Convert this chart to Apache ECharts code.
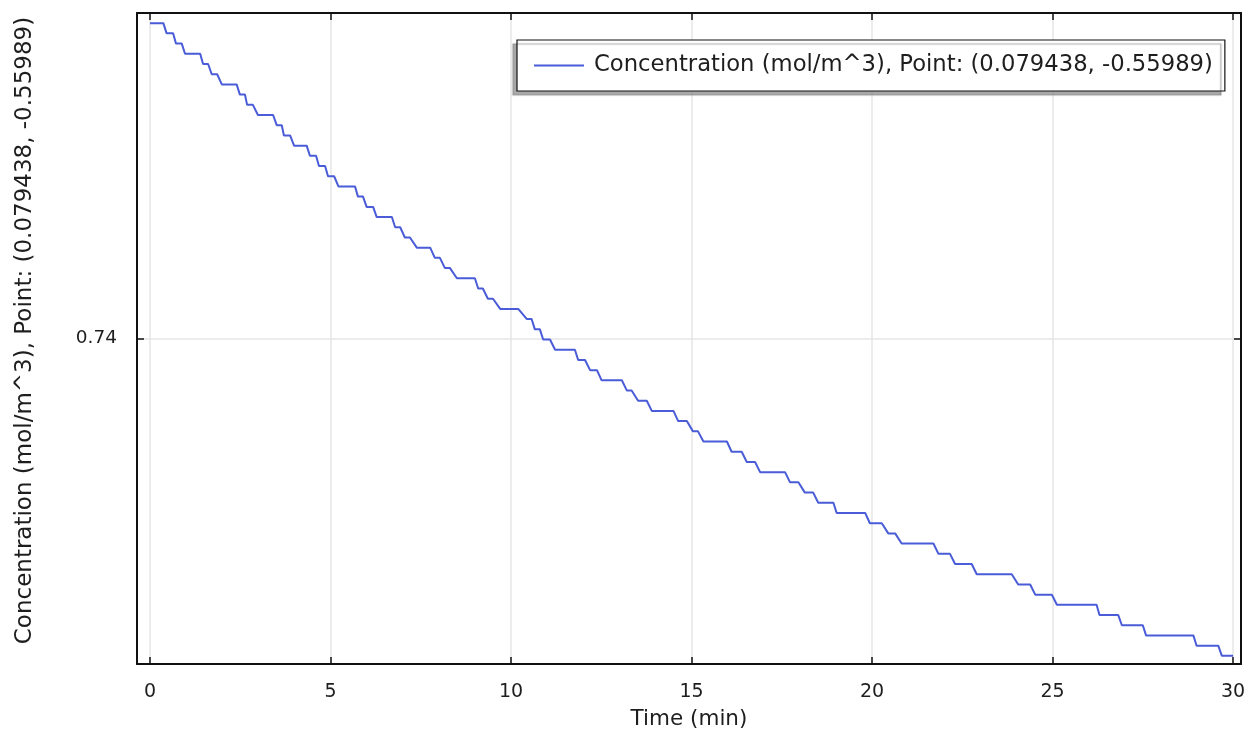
<!DOCTYPE html>
<html><head><meta charset="utf-8">
<script src="https://cdn.jsdelivr.net/npm/echarts@6/dist/echarts.min.js"></script>
<style>html,body{margin:0;padding:0;background:#fff}#c{width:1249px;height:730px}</style>
</head><body><div id="c"></div>
<script>
const seriesName = 'Concentration (mol/m^3), Point: (0.079438, -0.55989)';
const xAxisTitle = 'Time (min)';
const yAxisTitle = 'Concentration (mol/m^3), Point: (0.079438, -0.55989)';
const yTickLabels = ['0.74'];

// concentration level of each plateau (mol/m^3)
const levelValues = [
  0.74003100, 0.74003000, 0.74002899, 0.74002799, 0.74002699, 0.74002598, 0.74002498, 0.74002398,
  0.74002297, 0.74002197, 0.74002097, 0.74001996, 0.74001896, 0.74001796, 0.74001696, 0.74001595,
  0.74001495, 0.74001395, 0.74001294, 0.74001194, 0.74001094, 0.74000993, 0.74000893, 0.74000793,
  0.74000692, 0.74000592, 0.74000492, 0.74000391, 0.74000291, 0.74000191, 0.74000090, 0.73999990,
  0.73999890, 0.73999789, 0.73999689, 0.73999589, 0.73999488, 0.73999388, 0.73999288, 0.73999188,
  0.73999087, 0.73998987, 0.73998887, 0.73998786, 0.73998686, 0.73998586, 0.73998485, 0.73998385,
  0.73998285, 0.73998184, 0.73998084, 0.73997984, 0.73997883, 0.73997783, 0.73997683, 0.73997582,
  0.73997482, 0.73997382, 0.73997281, 0.73997181, 0.73997081, 0.73996980, 0.73996880
];
// time (min) at which each plateau begins
const levelStart = [
  0.00, 0.46, 0.72, 0.97, 1.47, 1.71, 1.99, 2.49, 2.69, 2.99, 3.51, 3.71, 3.99, 4.43, 4.68, 4.93,
  5.22, 5.76, 6.00, 6.28, 6.79, 7.06, 7.39, 7.89, 8.17, 8.50, 9.09, 9.36, 9.70, 10.44, 10.66, 10.89,
  11.22, 11.86, 12.19, 12.51, 13.21, 13.52, 13.90, 14.63, 15.04, 15.33, 16.11, 16.53, 16.90, 17.73,
  18.14, 18.51, 19.02, 19.94, 20.45, 20.82, 21.84, 22.30, 22.90, 24.05, 24.52, 25.12, 26.30, 26.92,
  27.59, 28.99, 29.69
];
// time (min) at which each plateau ends
const levelEnd = [
  0.37, 0.64, 0.88, 1.39, 1.61, 1.86, 2.40, 2.63, 2.85, 3.41, 3.65, 3.88, 4.34, 4.60, 4.85, 5.10,
  5.68, 5.90, 6.18, 6.70, 6.93, 7.20, 7.76, 8.03, 8.31, 9.00, 9.22, 9.50, 10.20, 10.57, 10.80, 11.08,
  11.77, 12.05, 12.38, 13.07, 13.34, 13.76, 14.50, 14.87, 15.18, 15.98, 16.39, 16.76, 17.59, 17.96,
  18.37, 18.93, 19.81, 20.27, 20.64, 21.70, 22.16, 22.76, 23.87, 24.38, 24.98, 26.22, 26.82, 27.50,
  28.90, 29.59, 30.00
];

const data = [];
for (let i = 0; i < levelValues.length; i++) {
  data.push([levelStart[i], levelValues[i]]);
  data.push([levelEnd[i], levelValues[i]]);
}

const FONT = 'DejaVu Sans';
const TXT = '#1e1e1e';
const chart = echarts.init(document.getElementById('c'), null, {renderer: 'canvas'});
const yMin = 0.739968, yMax = 0.740032, yInt = 0.000032;
const xMin = -0.36, xMax = 30.22;
const frame = {show: true, onZero: false, lineStyle: {color: '#111', width: 2}};
const tick = {show: true, inside: true, length: 7, lineStyle: {color: '#111', width: 1.5}};

chart.setOption({
  animation: false,
  backgroundColor: '#fff',
  grid: {left: 137, right: 8, top: 13, bottom: 66, containLabel: false, outerBoundsMode: 'none'},
  legend: {
    show: true,
    left: 517, top: 40,
    orient: 'horizontal',
    data: [{name: seriesName}],
    itemWidth: 50, itemHeight: 16,
    padding: [14, 12, 14, 16],
    backgroundColor: '#fff',
    borderColor: '#111', borderWidth: 1.2,
    shadowColor: 'rgba(140,140,140,0.75)', shadowBlur: 1, shadowOffsetX: -4, shadowOffsetY: 4,
    itemStyle: {opacity: 0},
    lineStyle: {color: '#4a5cd8', width: 2},
    textStyle: {fontFamily: FONT, fontSize: 22.7, color: TXT, padding: [0, 0, 0, 5]}
  },
  xAxis: [{
    type: 'value', min: xMin, max: xMax, position: 'bottom',
    name: xAxisTitle, nameLocation: 'middle', nameGap: 44,
    nameTextStyle: {fontFamily: FONT, fontSize: 21.5, color: TXT},
    axisLine: frame,
    axisTick: tick,
    axisLabel: {show: true, margin: 19, fontFamily: FONT, fontSize: 19, color: TXT,
      showMinLabel: false, showMaxLabel: false,
      formatter: v => (Math.abs(v - Math.round(v / 5) * 5) < 1e-6 ? String(Math.round(v)) : '')},
    splitLine: {show: true, lineStyle: {color: '#e6e6e6', width: 1.5}}
  }, {
    type: 'value', min: xMin, max: xMax, position: 'top',
    axisLine: frame,
    axisTick: tick,
    axisLabel: {show: false},
    splitLine: {show: false}
  }],
  yAxis: [{
    type: 'value', min: yMin, max: yMax, interval: yInt, position: 'left',
    name: yAxisTitle, nameLocation: 'middle', nameGap: 100, nameRotate: 90,
    nameTextStyle: {fontFamily: FONT, fontSize: 23, color: TXT, padding: [0, 0, 0, 16]},
    axisLine: frame,
    axisTick: tick,
    axisLabel: {show: true, margin: 20, fontFamily: FONT, fontSize: 18.5, color: TXT,
      formatter: v => (Math.abs(v - parseFloat(yTickLabels[0])) < 1e-7 ? yTickLabels[0] : '')},
    splitLine: {show: true, lineStyle: {color: '#e6e6e6', width: 1.5}}
  }, {
    type: 'value', min: yMin, max: yMax, interval: yInt, position: 'right',
    axisLine: frame,
    axisTick: tick,
    axisLabel: {show: false},
    splitLine: {show: false}
  }],
  series: [{
    name: seriesName,
    type: 'line',
    xAxisIndex: 0, yAxisIndex: 0,
    data: data,
    symbol: 'none',
    showSymbol: false,
    lineStyle: {color: '#4a5cd8', width: 2},
    itemStyle: {color: '#4a5cd8'}
  }]
});
</script>
</body></html>
